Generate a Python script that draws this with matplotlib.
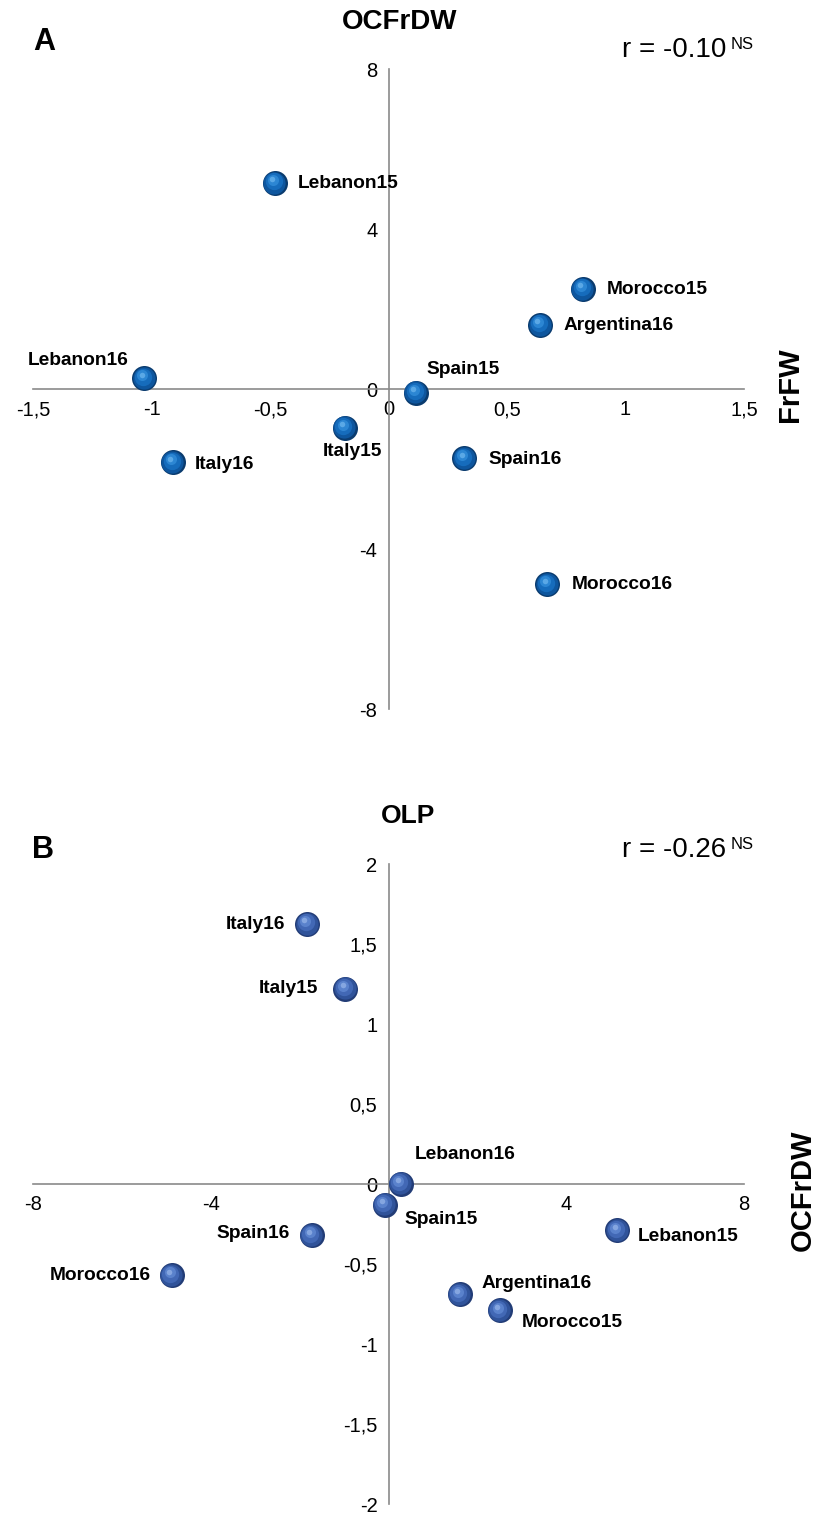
import matplotlib
matplotlib.use("Agg")
import matplotlib.pyplot as plt
from matplotlib.transforms import offset_copy

plt.rcParams['font.family'] = ['Liberation Sans', 'DejaVu Sans']

# sample names, same order in both panels
names = ["Lebanon15", "Morocco15", "Argentina16", "Lebanon16", "Spain15",
         "Italy15", "Italy16", "Spain16", "Morocco16"]

# panel A: x = OCFrDW, y = FrFW ; panel B: x = FrFW, y = OLP
ocfrdw = [-0.48, 0.82, 0.64, -1.03, 0.115, -0.185, -0.91, 0.32, 0.67]
frfw = [5.15, 2.5, 1.6, 0.27, -0.09, -0.97, -1.83, -1.73, -4.88]
olp = [-0.29, -0.79, -0.69, 0.0, -0.13, 1.22, 1.625, -0.32, -0.57]

a_xticks = [-1.5, -1, -0.5, 0, 0.5, 1, 1.5]
a_yticks = [-8, -4, 0, 4, 8]
b_xticks = [-8, -4, 0, 4, 8]
b_yticks = [-2, -1.5, -1, -0.5, 0, 0.5, 1, 1.5, 2]

# label placement (ha, dx px, dy px)
a_lab = [("left", 23, 0), ("left", 24, 0), ("left", 23, 0), ("right", -16, 18),
         ("left", 11, 23), ("center", 8, -24), ("left", 22, -2), ("left", 24, -1),
         ("left", 24, 0)]
b_lab = [("left", 20, -6), ("left", 22, -12), ("left", 22, 11), ("left", 14, 30),
         ("left", 20, -15), ("right", -27, 0), ("right", -22, 0), ("right", -22, 2),
         ("right", -21, 0)]


def fmt(v):
    return ("%g" % v).replace(".", ",")


def spheres(ax, fig, x, y, shades):
    # fake 3d ball: stacked circles, lighter and smaller towards the top-left
    layers = [(18, 0, 0), (16, -0.3, 0.4), (12.5, -0.9, 1.2), (8, -1.5, 2.0), (4, -2.0, 2.6)]
    for (d, ox, oy), c in zip(layers, shades):
        tr = offset_copy(ax.transData, fig=fig, x=ox, y=oy, units='points')
        ax.scatter(x, y, s=d * d, color=c, transform=tr, zorder=3, linewidths=0)


def setup(ax, xlim, ylim, xt, yt):
    ax.set_xlim(xlim)
    ax.set_ylim(ylim)
    for s in ["top", "right"]:
        ax.spines[s].set_visible(False)
    for s in ["left", "bottom"]:
        ax.spines[s].set_position("zero")
        ax.spines[s].set_color("#8a8a8a")
        ax.spines[s].set_linewidth(1.2)
    ax.set_xticks(xt)
    ax.set_xticklabels([fmt(v) for v in xt])
    ax.set_yticks(yt)
    ax.set_yticklabels([fmt(v) for v in yt])
    ax.tick_params(length=0, labelsize=14.5, pad=8)
    ax.set_facecolor("none")


fig = plt.figure(figsize=(8.23, 15.15), dpi=100)

# ---- panel A
axA = fig.add_axes([0.0401, 0.532, 0.864, 0.4224])
setup(axA, (-1.5, 1.5), (-8, 8), a_xticks, a_yticks)
spheres(axA, fig, ocfrdw, frfw, ["#0a3b6e", "#0e569e", "#166cbc", "#2c86d3", "#5aa8e6"])
for i, n in enumerate(names):
    ha, dx, dy = a_lab[i]
    axA.annotate(n, (ocfrdw[i], frfw[i]), xytext=(dx, dy), textcoords="offset pixels",
                 ha=ha, va="center", fontsize=13.8, fontweight="bold", zorder=4)

# ---- panel B
axB = fig.add_axes([0.0401, 0.00726, 0.864, 0.4224])
setup(axB, (-8, 8), (-2, 2), b_xticks, b_yticks)
spheres(axB, fig, frfw, olp, ["#223c76", "#30539a", "#4268b5", "#5a82cc", "#85a6e0"])
for i, n in enumerate(names):
    ha, dx, dy = b_lab[i]
    axB.annotate(n, (frfw[i], olp[i]), xytext=(dx, dy), textcoords="offset pixels",
                 ha=ha, va="center", fontsize=13.8, fontweight="bold", zorder=4)

# ---- texts around the panels
fig.text(0.0535, 0.9723, "A", fontsize=22, fontweight="bold", ha="center", va="center")
fig.text(0.486, 0.9855, "OCFrDW", fontsize=20, fontweight="bold", ha="center", va="center")
rA = fig.text(0.756, 0.967, "r = -0.10", fontsize=20, ha="left", va="center")
fig.text(0.96, 0.746, "FrFW", fontsize=21, fontweight="bold", rotation=90, ha="center", va="center")

fig.text(0.052, 0.439, "B", fontsize=22, fontweight="bold", ha="center", va="center")
fig.text(0.496, 0.4614, "OLP", fontsize=19, fontweight="bold", ha="center", va="center")
rB = fig.text(0.756, 0.439, "r = -0.26", fontsize=20, ha="left", va="center")
fig.text(0.9757, 0.2145, "OCFrDW", fontsize=21, fontweight="bold", rotation=90, ha="center", va="center")

for t in [rA, rB]:
    axA.annotate("NS", xy=(1, 1), xycoords=t, xytext=(3, 0), textcoords="offset points",
                 ha="left", va="top", fontsize=12, annotation_clip=False)

fig.savefig("out.png", dpi=100)
